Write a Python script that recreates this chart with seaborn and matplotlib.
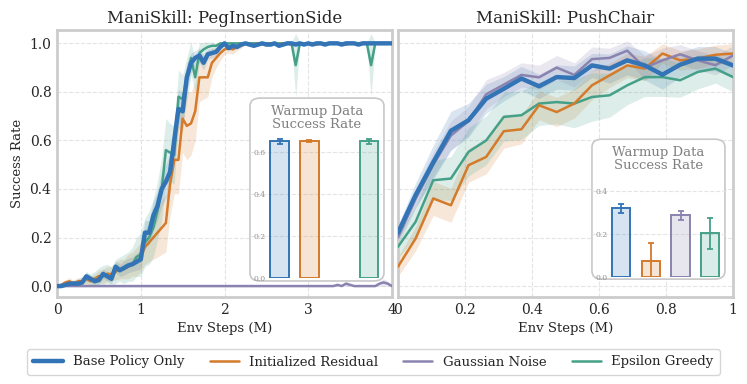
import numpy as np
import matplotlib
matplotlib.use("Agg")
import matplotlib.pyplot as plt
import seaborn as sns
from matplotlib.patches import FancyBboxPatch
from matplotlib.lines import Line2D

# ---------------- data ----------------
methods = ["Base Policy Only", "Initialized Residual", "Gaussian Noise", "Epsilon Greedy"]
colors = ["#3274B5", "#D37A2B", "#8A83AF", "#45A088"]

# PegInsertionSide : eval every 0.05M steps
peg_steps = np.round(np.arange(0, 4.001, 0.05), 2)
peg_base = [0.0, 0.0, 0.005, 0.01, 0.01, 0.01, 0.015, 0.04, 0.03, 0.02,
            0.025, 0.05, 0.04, 0.03, 0.08, 0.065, 0.075, 0.085, 0.09, 0.10,
            0.11, 0.22, 0.22, 0.29, 0.33, 0.40, 0.43, 0.47, 0.60, 0.73,
            0.72, 0.86, 0.92, 0.94, 0.95, 0.92, 0.955, 0.96, 0.965, 0.985,
            1.0, 0.98, 0.99, 0.985, 0.995, 1.0, 0.995, 0.99, 0.995, 1.0,
            0.995, 0.995, 1.0, 0.99, 0.995, 1.0, 1.0, 0.995, 1.0, 0.995,
            1.0, 0.995, 1.0, 1.0, 0.995, 1.0, 1.0, 1.0, 0.995, 1.0,
            1.0, 1.0, 0.995, 1.0, 1.0, 1.0, 1.0, 1.0, 1.0, 1.0, 1.0]
peg_base_sd = [0.0, 0.003, 0.005, 0.008, 0.01, 0.01, 0.01, 0.02, 0.015, 0.015,
               0.02, 0.02, 0.02, 0.02, 0.025, 0.025, 0.03, 0.03, 0.03, 0.035,
               0.04, 0.05, 0.05, 0.06, 0.06, 0.07, 0.07, 0.08, 0.09, 0.08,
               0.08, 0.06, 0.04, 0.03, 0.03, 0.03, 0.02, 0.02, 0.015, 0.01,
               0.006, 0.008, 0.006, 0.006, 0.005, 0.004, 0.005, 0.006, 0.005, 0.004,
               0.005, 0.005, 0.004, 0.006, 0.005, 0.004, 0.004, 0.005, 0.004, 0.005,
               0.004, 0.005, 0.004, 0.004, 0.005, 0.004, 0.004, 0.004, 0.005, 0.004,
               0.004, 0.004, 0.005, 0.004, 0.004, 0.004, 0.004, 0.004, 0.004, 0.004, 0.004]
peg_resid = [0.0, 0.005, 0.015, 0.02, 0.01, 0.02, 0.02, 0.03, 0.02, 0.03,
             0.04, 0.04, 0.05, 0.05, 0.06, 0.07, 0.07, 0.08, 0.09, 0.10,
             0.12, 0.16, 0.18, 0.20, 0.22, 0.24, 0.26, 0.42, 0.52, 0.52,
             0.69, 0.66, 0.67, 0.72, 0.86, 0.86, 0.86, 0.92, 0.94, 0.96,
             0.975, 0.98, 0.975, 0.985, 0.99, 1.0, 0.995, 0.995, 1.0, 1.0,
             0.995, 1.0, 1.0, 0.995, 1.0, 1.0, 0.995, 1.0, 1.0, 1.0,
             1.0, 1.0, 0.995, 1.0, 1.0, 1.0, 1.0, 1.0, 1.0, 0.995,
             1.0, 1.0, 1.0, 1.0, 1.0, 1.0, 1.0, 1.0, 1.0, 1.0, 1.0]
peg_resid_sd = [0.0, 0.005, 0.01, 0.015, 0.01, 0.015, 0.015, 0.02, 0.02, 0.02,
                0.025, 0.03, 0.03, 0.03, 0.035, 0.04, 0.04, 0.05, 0.05, 0.06,
                0.06, 0.07, 0.08, 0.09, 0.10, 0.11, 0.12, 0.13, 0.14, 0.14,
                0.14, 0.14, 0.13, 0.12, 0.10, 0.09, 0.08, 0.06, 0.04, 0.03,
                0.02, 0.02, 0.02, 0.015, 0.01, 0.005, 0.006, 0.006, 0.004, 0.004,
                0.005, 0.004, 0.004, 0.005, 0.004, 0.004, 0.005, 0.004, 0.004, 0.004,
                0.004, 0.004, 0.005, 0.004, 0.004, 0.004, 0.004, 0.004, 0.004, 0.005,
                0.004, 0.004, 0.004, 0.004, 0.004, 0.004, 0.004, 0.004, 0.004, 0.004, 0.004]
peg_gauss = [0.0, 0.0, 0.0, 0.0, 0.0, 0.0, 0.0, 0.0, 0.0, 0.0,
             0.0, 0.0, 0.0, 0.0, 0.0, 0.0, 0.0, 0.0, 0.0, 0.0,
             0.0, 0.0, 0.0, 0.0, 0.0, 0.0, 0.0, 0.0, 0.0, 0.0,
             0.0, 0.0, 0.0, 0.0, 0.0, 0.0, 0.0, 0.0, 0.0, 0.0,
             0.0, 0.0, 0.0, 0.0, 0.0, 0.0, 0.0, 0.0, 0.0, 0.0,
             0.0, 0.0, 0.0, 0.0, 0.0, 0.0, 0.0, 0.0, 0.0, 0.0,
             0.0, 0.0, 0.0, 0.0, 0.0, 0.0, 0.0, 0.005, 0.0, 0.01,
             0.005, 0.0, 0.0, 0.0, 0.0, 0.0, 0.0, 0.01, 0.015, 0.01, 0.0]
peg_gauss_sd = [0.0, 0.0, 0.0, 0.0, 0.0, 0.0, 0.0, 0.0, 0.0, 0.0,
                0.0, 0.0, 0.0, 0.0, 0.0, 0.0, 0.0, 0.0, 0.0, 0.0,
                0.0, 0.0, 0.0, 0.0, 0.0, 0.0, 0.0, 0.0, 0.0, 0.0,
                0.0, 0.0, 0.0, 0.0, 0.0, 0.0, 0.0, 0.0, 0.0, 0.0,
                0.0, 0.0, 0.0, 0.0, 0.0, 0.0, 0.0, 0.0, 0.0, 0.0,
                0.0, 0.0, 0.0, 0.0, 0.0, 0.0, 0.0, 0.0, 0.0, 0.0,
                0.0, 0.0, 0.0, 0.0, 0.0, 0.0, 0.0, 0.005, 0.0, 0.01,
                0.005, 0.0, 0.0, 0.0, 0.0, 0.0, 0.0, 0.01, 0.015, 0.01, 0.0]
peg_eps = [0.0, 0.0, 0.005, 0.01, 0.015, 0.015, 0.02, 0.03, 0.025, 0.03,
           0.04, 0.045, 0.05, 0.04, 0.06, 0.07, 0.07, 0.08, 0.09, 0.12,
           0.13, 0.18, 0.20, 0.24, 0.31, 0.40, 0.56, 0.55, 0.54, 0.78,
           0.77, 0.85, 0.94, 0.86, 0.96, 0.975, 0.985, 0.99, 0.99, 1.0,
           1.0, 1.0, 1.0, 1.0, 1.0, 1.0, 1.0, 1.0, 1.0, 1.0,
           1.0, 1.0, 1.0, 1.0, 1.0, 1.0, 1.0, 0.91, 1.0, 1.0,
           1.0, 1.0, 1.0, 1.0, 1.0, 1.0, 1.0, 1.0, 1.0, 1.0,
           1.0, 1.0, 1.0, 1.0, 1.0, 0.91, 1.0, 1.0, 1.0, 1.0, 1.0]
peg_eps_sd = [0.0, 0.003, 0.006, 0.01, 0.012, 0.015, 0.02, 0.025, 0.025, 0.03,
              0.035, 0.04, 0.04, 0.04, 0.05, 0.05, 0.06, 0.06, 0.07, 0.08,
              0.09, 0.10, 0.11, 0.12, 0.12, 0.13, 0.13, 0.12, 0.12, 0.11,
              0.10, 0.09, 0.07, 0.06, 0.04, 0.03, 0.02, 0.015, 0.01, 0.005,
              0.005, 0.004, 0.004, 0.004, 0.004, 0.004, 0.004, 0.004, 0.004, 0.004,
              0.004, 0.004, 0.004, 0.004, 0.004, 0.004, 0.004, 0.13, 0.004, 0.004,
              0.004, 0.004, 0.004, 0.004, 0.004, 0.004, 0.004, 0.004, 0.004, 0.004,
              0.004, 0.004, 0.004, 0.004, 0.004, 0.13, 0.004, 0.004, 0.004, 0.004, 0.004]

# PushChair : 20 evaluations over 1M steps
chair_steps = np.linspace(0, 1, 20)
chair_base = [0.22, 0.375, 0.51, 0.64, 0.683, 0.772, 0.813, 0.855, 0.823, 0.861,
              0.857, 0.909, 0.896, 0.93, 0.909, 0.871, 0.912, 0.937, 0.937, 0.909]
chair_base_sd = [0.03, 0.05, 0.07, 0.08, 0.07, 0.06, 0.05, 0.05, 0.05, 0.05,
                 0.05, 0.05, 0.06, 0.06, 0.06, 0.06, 0.05, 0.05, 0.05, 0.05]
chair_resid = [0.08, 0.196, 0.361, 0.333, 0.498, 0.532, 0.638, 0.646, 0.745, 0.717,
               0.752, 0.827, 0.868, 0.909, 0.896, 0.958, 0.93, 0.937, 0.953, 0.958]
chair_resid_sd = [0.04, 0.05, 0.07, 0.07, 0.07, 0.07, 0.07, 0.06, 0.06, 0.06,
                  0.06, 0.06, 0.05, 0.05, 0.05, 0.04, 0.04, 0.04, 0.04, 0.04]
chair_gauss = [0.20, 0.36, 0.50, 0.62, 0.68, 0.79, 0.83, 0.87, 0.86, 0.90,
               0.87, 0.935, 0.94, 0.97, 0.90, 0.93, 0.955, 0.93, 0.91, 0.95]
chair_gauss_sd = [0.03, 0.04, 0.05, 0.06, 0.06, 0.06, 0.05, 0.05, 0.05, 0.05,
                  0.05, 0.05, 0.04, 0.04, 0.05, 0.05, 0.04, 0.04, 0.04, 0.04]
chair_eps = [0.162, 0.265, 0.436, 0.443, 0.553, 0.60, 0.697, 0.704, 0.752, 0.758,
             0.752, 0.779, 0.786, 0.827, 0.861, 0.861, 0.848, 0.882, 0.896, 0.861]
chair_eps_sd = [0.05, 0.06, 0.08, 0.09, 0.10, 0.10, 0.10, 0.10, 0.09, 0.09,
                0.10, 0.10, 0.09, 0.08, 0.08, 0.08, 0.07, 0.07, 0.06, 0.06]

# warmup data success rate (inset bars)
peg_warmup = [0.65, 0.65, 0.0, 0.65]
peg_warmup_err = [0.012, 0.006, 0.0, 0.012]
chair_warmup = [0.32, 0.075, 0.288, 0.203]
chair_warmup_err = [0.023, 0.083, 0.02, 0.072]

# ---------------- style ----------------
sns.set_style("whitegrid", {
    "axes.edgecolor": "#cccccc",
    "grid.color": "#e4e4e4",
    "grid.linestyle": "--",
})
plt.rcParams["font.family"] = ["DejaVu Serif"]
plt.rcParams["axes.linewidth"] = 2.0

fig = plt.figure(figsize=(7.47, 3.84), dpi=100)
ax1 = fig.add_axes([57 / 747, 87 / 384, 335 / 747, 267 / 384])
ax2 = fig.add_axes([398 / 747, 87 / 384, 335 / 747, 267 / 384])


def draw_curves(ax, steps, series):
    # series: list of (mean, sd) in method order; draw base last so it sits on top
    order = [3, 1, 2, 0]
    for i in order:
        mean, sd = series[i]
        mean = np.array(mean)
        sd = np.array(sd)
        lw = 3.2 if i == 0 else 1.8
        ax.fill_between(steps, mean - sd, mean + sd, color=colors[i], alpha=0.18,
                        linewidth=0, zorder=1 + i * 0.01)
        sns.lineplot(x=steps, y=mean, ax=ax, color=colors[i], linewidth=lw,
                     zorder=5 if i == 0 else 3)


def draw_inset(ax, box, bar_box, ylim, yticks, values, errs):
    # rounded white box behind the little bar chart
    patch = FancyBboxPatch((box[0], box[1]), box[2], box[3],
                           boxstyle="round,pad=0,rounding_size=0.03",
                           transform=ax.transAxes, facecolor="white",
                           edgecolor="#c8c8c8", linewidth=1.2, zorder=8)
    ax.add_patch(patch)
    ax.text(box[0] + box[2] / 2, box[1] + box[3] - 0.025, "Warmup Data\nSuccess Rate",
            transform=ax.transAxes, ha="center", va="top", fontsize=9.5,
            color="#808080", linespacing=1.0, zorder=9)
    ins = ax.inset_axes(bar_box, zorder=9)
    ins.patch.set_alpha(0)
    sns.barplot(x=methods, y=values, ax=ins, hue=methods, palette=colors,
                width=0.62, legend=False)
    for p, c, v in zip(ins.patches, colors, values):
        p.set_alpha(None)
        p.set_facecolor(matplotlib.colors.to_rgba(c, 0.2))
        p.set_edgecolor(c)
        p.set_linewidth(1.4 if v > 0 else 0)
    for k in range(len(methods)):
        if errs[k] > 0:
            ins.errorbar(k, values[k], yerr=errs[k], color=colors[k], capsize=2.5,
                         elinewidth=1.3, capthick=1.3)
    ins.set_xlim(-0.99, 3.5)
    ins.set_ylim(*ylim)
    ins.set_yticks(yticks)
    ins.set_yticklabels([f"{t:.1f}" for t in yticks])
    ins.set_xticks([])
    ins.set_xlabel("")
    ins.set_ylabel("")
    ins.tick_params(axis="y", pad=-11, labelsize=5.5, labelcolor="#909090", length=0)
    ins.grid(axis="y", color="#e4e4e4", linestyle="--", linewidth=0.8)
    ins.grid(axis="x", visible=False)
    for s in ins.spines.values():
        s.set_visible(False)


# ---------------- left panel ----------------
draw_curves(ax1, peg_steps, [(peg_base, peg_base_sd), (peg_resid, peg_resid_sd),
                             (peg_gauss, peg_gauss_sd), (peg_eps, peg_eps_sd)])
ax1.set_xlim(0, 4)
ax1.set_ylim(-0.045, 1.055)
ax1.set_xticks([0, 1, 2, 3, 4])
ax1.set_yticks([0.0, 0.2, 0.4, 0.6, 0.8, 1.0])
ax1.set_yticklabels(["0.0", "0.2", "0.4", "0.6", "0.8", "1.0"])
ax1.set_title("ManiSkill: PegInsertionSide", fontsize=12, pad=5)
ax1.set_xlabel("Env Steps (M)", fontsize=9.5)
ax1.set_ylabel("Success Rate", fontsize=9.5)
draw_inset(ax1, [0.576, 0.06, 0.40, 0.685], [0.576, 0.07, 0.40, 0.545],
           (0, 0.69), [0.0, 0.2, 0.4, 0.6], peg_warmup, peg_warmup_err)

# ---------------- right panel ----------------
draw_curves(ax2, chair_steps, [(chair_base, chair_base_sd), (chair_resid, chair_resid_sd),
                               (chair_gauss, chair_gauss_sd), (chair_eps, chair_eps_sd)])
ax2.set_xlim(0, 1)
ax2.set_ylim(-0.045, 1.055)
ax2.set_xticks([0, 0.2, 0.4, 0.6, 0.8, 1.0])
ax2.set_xticklabels(["0", "0.2", "0.4", "0.6", "0.8", "1"])
ax2.set_yticks([0.0, 0.2, 0.4, 0.6, 0.8, 1.0])
ax2.set_yticklabels([])
ax2.set_title("ManiSkill: PushChair", fontsize=12, pad=5)
ax2.set_xlabel("Env Steps (M)", fontsize=9.5)
ax2.set_ylabel("")
draw_inset(ax2, [0.579, 0.067, 0.397, 0.524], [0.579, 0.075, 0.397, 0.365],
           (0, 0.455), [0.0, 0.2, 0.4], chair_warmup, chair_warmup_err)

for ax in (ax1, ax2):
    ax.tick_params(labelsize=10, length=0, pad=4)
    for s in ax.spines.values():
        s.set_color("#cccccc")
        s.set_linewidth(2.0)

# ---------------- legend ----------------
handles = [Line2D([0], [0], color=colors[i], linewidth=3.2 if i == 0 else 1.8)
           for i in range(len(methods))]
fig.legend(handles, methods, loc="center", bbox_to_anchor=(0.5, 1 - 362 / 384),
           ncol=4, fontsize=9.5, frameon=True, edgecolor="#cccccc",
           handlelength=2.2, columnspacing=1.9, borderpad=0.5)

fig.savefig("out.png", dpi=100)
